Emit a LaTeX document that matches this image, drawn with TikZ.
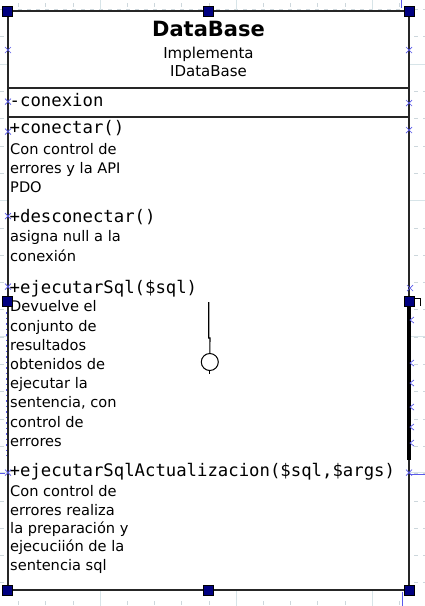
\documentclass[tikz,border=0pt]{standalone}
\usepackage{fontspec}
\setmainfont{DejaVu Sans}
\newfontfamily\monof{DejaVu Sans Mono}
\definecolor{handlefill}{RGB}{0,0,128}
\definecolor{markblue}{RGB}{90,90,235}
\definecolor{gridmajor}{RGB}{215,228,232}
\definecolor{gridminor}{RGB}{205,215,220}
\tikzset{
  x=1pt, y=-1pt,
  handle/.style={draw=black, fill=handlefill, line width=0.8pt, minimum size=10pt, inner sep=0pt},
  mono/.style={anchor=base west, inner sep=0pt, font=\monof\fontsize{17.3}{20}\selectfont},
  desc/.style={anchor=base west, inner sep=0pt, font=\fontsize{14.6}{19}\selectfont},
  sub/.style={anchor=base, inner sep=0pt, font=\fontsize{15}{19}\selectfont},
  xmark/.style={markblue, line width=0.7pt},
  border/.style={draw=black!85, line width=1.8pt},
}
\begin{document}
\begin{tikzpicture}
\useasboundingbox (0,0) rectangle (425,606);
\fill[white] (0,0) rectangle (425,606);
% grid
\foreach \k in {-3,...,12} {
  \pgfmathsetmacro{\gx}{100+27.2*\k}
  \draw[gridminor, line width=0.6pt, dash pattern=on 4pt off 23.2pt, dash phase=-3pt] (\gx,0) -- (\gx,606);
}
\foreach \k in {-2,...,20} {
  \pgfmathsetmacro{\gy}{64+27.3*\k}
  \draw[gridminor, line width=0.6pt, dash pattern=on 4pt off 5pt] (0,\gy) -- (425,\gy);
}
\foreach \gx in {100,236,372} \draw[gridmajor, line width=0.7pt] (\gx,0) -- (\gx,606);
\foreach \gy in {64,200,336,472} \draw[gridmajor, line width=0.7pt] (0,\gy) -- (425,\gy);
% blue connector stubs
\draw[markblue, line width=1pt] (401.5,0) -- (401.5,8);
\draw[markblue, line width=1pt] (402.5,592) -- (402.5,606);
\draw[markblue, line width=1pt] (410,474) -- (425,474);
\draw[markblue, line width=1pt] (0,473) -- (5,473);
% class box
\coordinate (tl) at (8,11);
\coordinate (br) at (409,590);
\fill[white] (tl) rectangle (br);
\draw[border] (tl) rectangle (br);
\draw[border] (8,88.3) -- (409,88.3);
\draw[border] (8,116.7) -- (409,116.7);
\draw[black, line width=4pt] (409,305) -- (409,460);
% texts
\node[anchor=base, inner sep=0pt, font=\bfseries\fontsize{21}{24}\selectfont] (title) at (208.5,36) {DataBase};
\node[sub] (s1) at (208.5,58.3) {Implementa};
\node[sub] (s2) at (208.5,76.7) {IDataBase};
\node[mono] (a1) at (9.5,106.7) {-conexion};
\node[mono] (m1) at (9.5,133.3) {+conectar()};
\node[desc] (d11) at (10,154.3) {Con control de};
\node[desc] (d12) at (10,173.6) {errores y la API};
\node[desc] (d13) at (10,192.7) {PDO};
\node[mono] (m2) at (9.5,222.7) {+desconectar()};
\node[desc] (d21) at (10,241.9) {asigna null a la};
\node[desc] (d22) at (10,261) {conexión};
\node[mono] (m3) at (9.5,293.3) {+ejecutarSql(\$sql)};
\node[desc] (d31) at (10,311.9) {Devuelve el};
\node[desc] (d32) at (10,331.1) {conjunto de};
\node[desc] (d33) at (10,350.3) {resultados};
\node[desc] (d34) at (10,369.5) {obtenidos de};
\node[desc] (d35) at (10,388.7) {ejecutar la};
\node[desc] (d36) at (10,407.9) {sentencia, con};
\node[desc] (d37) at (10,427.1) {control de};
\node[desc] (d38) at (10,446.3) {errores};
\node[mono] (m4) at (9.5,476.7) {+ejecutarSqlActualizacion(\$sql,\$args)};
\node[desc] (d41) at (10,496.7) {Con control de};
\node[desc] (d42) at (10,515.4) {errores realiza};
\node[desc] (d43) at (10,533.6) {la preparación y};
\node[desc] (d44) at (10,551.9) {ejecuciión de la};
\node[desc] (d45) at (10,570.5) {sentencia sql};
% lollipop
\node[draw=black, circle, line width=1pt, minimum size=17pt, inner sep=0pt] (lolly) at (209.8,362) {};
\coordinate (lstart) at (208.7,302);
\draw[black, line width=1.1pt] (lstart) -- (208.7,338) -- (210,338) -- (lolly.north);
\draw[black, line width=1pt] (lolly.south) -- ++(0,3);
% left dotted resize marker
\draw[markblue, line width=1pt, dash pattern=on 1.5pt off 4pt] (6,312) -- (6,456);
% x marks
\foreach \px/\py in {8/50, 409/50, 8/101.7, 409/103, 8/131.7, 409/130, 8/216, 8/286.7, 410/288, 8/472.7, 409/472.7} {
  \draw[xmark] (\px-3,\py-3) -- (\px+3,\py+3) (\px-3,\py+3) -- (\px+3,\py-3);
}
% chevrons on right edge
\foreach \py in {320,363,383,407,427,443} {
  \draw[xmark] (414,\py-3) -- (410,\py) -- (414,\py+3);
}
% small bracket near right handle
\draw[black, line width=1pt] (414,298) -- (420,298) -- (420,306);
% handles
\node[handle] (h1) at (7.5,11) {};
\node[handle] (h2) at (208.5,11) {};
\node[handle] (h3) at (409.3,11) {};
\node[handle] (h4) at (7.5,301) {};
\node[handle] (h5) at (409.3,301) {};
\node[handle] (h6) at (7.5,590.7) {};
\node[handle] (h7) at (208.5,590.7) {};
\node[handle] (h8) at (409.3,590.7) {};
\end{tikzpicture}
\end{document}
